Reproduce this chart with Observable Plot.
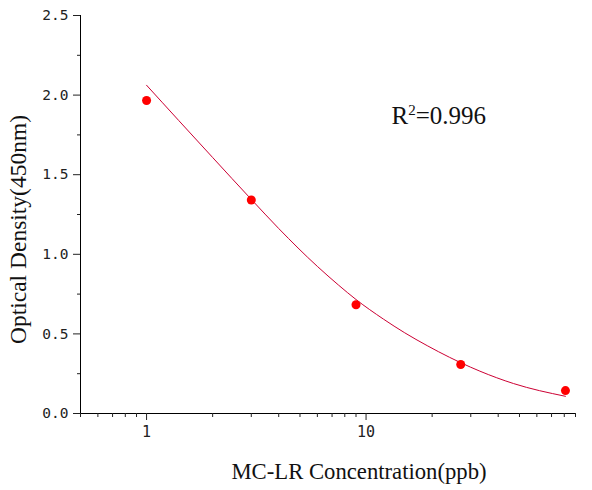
<!DOCTYPE html>
<html>
<head>
<meta charset="utf-8">
<script src="https://cdn.jsdelivr.net/npm/d3@7"></script>
<script src="https://cdn.jsdelivr.net/npm/@observablehq/plot@0.6"></script>
<style>
  body { margin: 0; background: #fff; }
</style>
</head>
<body>
<div id="chart"></div>
<script>
// measured standards
const conc = [1, 3, 9, 27, 81];
const od = [1.966, 1.341, 0.683, 0.308, 0.144];

// fitted curve
const fitConc = [1, 1.4, 2, 3, 4, 6, 7.5, 9, 12, 15, 19, 24, 27, 33, 47, 81];
const fitOd = [2.062, 1.841, 1.608, 1.345, 1.162, 0.924, 0.806, 0.716, 0.593, 0.507, 0.426, 0.353, 0.319, 0.266, 0.188, 0.108];

// axis ticks
const xMajor = [1, 10];
const xMinor = [0.5, 0.6, 0.7, 0.8, 0.9, 2, 3, 4, 5, 6, 7, 8, 9, 20, 30, 40, 50, 60, 70, 80, 90];
const yMajor = [0, 0.5, 1.0, 1.5, 2.0, 2.5];
const yMinor = [0.25, 0.75, 1.25, 1.75, 2.25];

const r2Label = "R2=0.996";

const points = conc.map((c, i) => ({conc: c, od: od[i]}));
const fit = fitConc.map((c, i) => ({conc: c, od: fitOd[i]}));

const tickFont = "DejaVu Sans Mono";
const serif = "Liberation Serif, Times New Roman, serif";

let chart = Plot.plot({
  width: 592,
  height: 490,
  marginLeft: 80,
  marginRight: 17,
  marginTop: 15,
  marginBottom: 77,
  x: {type: "log", domain: [0.5, 90]},
  y: {domain: [0, 2.5]},
  style: {background: "#fff", color: "#222"},
  marks: [
    // axis lines (left and bottom only)
    Plot.frame({anchor: "left", stroke: "#000"}),
    Plot.frame({anchor: "bottom", stroke: "#000"}),

    Plot.axisX(xMajor, {tickSize: 7, tickPadding: 6, tickFormat: d => String(d), fontFamily: tickFont, fontSize: 15, label: null}),
    Plot.axisX(xMinor, {tickSize: 4, tickFormat: () => "", label: null}),
    Plot.axisY(yMajor, {tickSize: 7, tickPadding: 5, tickFormat: d3.format(".1f"), fontFamily: tickFont, fontSize: 14.5, label: null}),
    Plot.axisY(yMinor, {tickSize: 3, tickFormat: () => "", label: null}),

    Plot.line(fit, {x: "conc", y: "od", stroke: "#cc0033", strokeWidth: 1, curve: "monotone-x"}),
    Plot.dot(points, {x: "conc", y: "od", r: 4.5, fill: "#ff0000", stroke: "none"}),

    Plot.text([r2Label], {frameAnchor: "top-left", dx: 311, dy: 100, textAnchor: "start", lineAnchor: "middle",
      fontFamily: serif, fontSize: 25, fill: "#111", className: "r2"}),

    // axis titles
    Plot.text(["MC-LR Concentration(ppb)"], {frameAnchor: "bottom", dx: 31, dy: 58, lineAnchor: "middle",
      fontFamily: serif, fontSize: 22.7, fill: "#111"}),
    Plot.text(["Optical Density(450nm)"], {frameAnchor: "left", dx: -62, dy: 15, rotate: -90,
      textAnchor: "middle", lineAnchor: "middle", fontFamily: serif, fontSize: 23.5, fill: "#111"})
  ]
});

// superscript the 2 in R2
d3.select(chart).selectAll("g.r2 text").each(function() {
  const t = d3.select(this);
  t.text(null);
  t.append("tspan").text("R");
  t.append("tspan").attr("font-size", "15").attr("dy", "-9").text("2");
  t.append("tspan").attr("dy", "9").text("=0.996");
});

d3.select("#chart").append(() => chart);
</script>
</body>
</html>
